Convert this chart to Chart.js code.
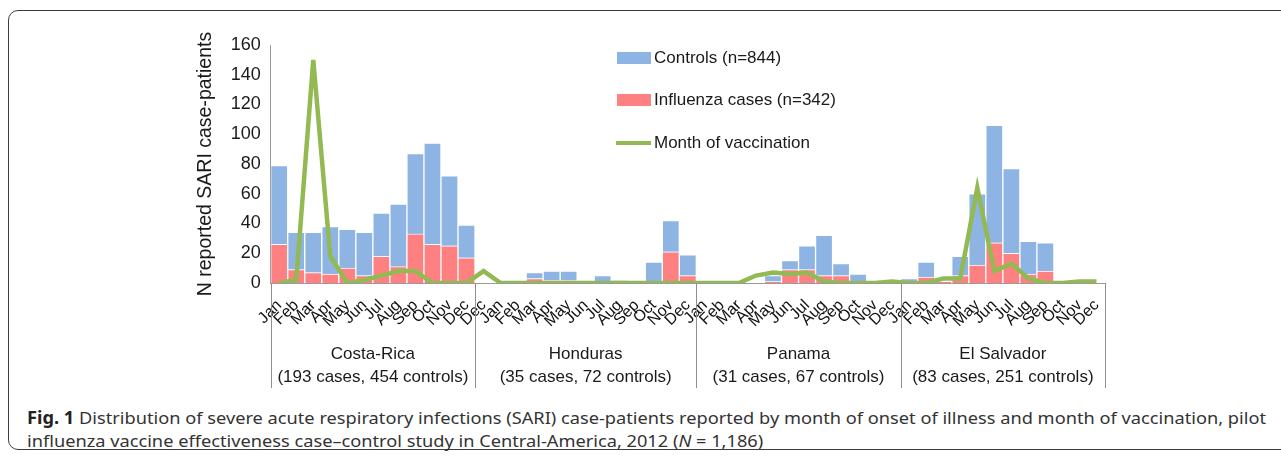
<!DOCTYPE html>
<html>
<head>
<meta charset="utf-8">
<script src="https://cdn.jsdelivr.net/npm/chart.js@4.4.1/dist/chart.umd.min.js"></script>
<style>
  html, body { margin: 0; padding: 0; background: #fff; }
  body { width: 1281px; height: 457px; position: relative; overflow: hidden; }
  #frame { position: absolute; left: 8px; top: 10px; width: 1320px; height: 440px;
           border: 1.5px solid #3c3c3c; border-radius: 10px; box-sizing: border-box; }
  #chart { position: absolute; left: 0; top: 0; }
  #cap { position: absolute; left: 27px; top: 406px; font-family: "Noto Sans", "Open Sans", sans-serif;
         font-size: 17px; line-height: 23px; color: #333; white-space: nowrap; transform-origin: 0 0; }
  #cap b { color: #222; }
</style>
</head>
<body>
<div id="frame"></div>
<canvas id="chart" width="1281" height="395"></canvas>
<div id="cap"><span id="cap1"><b>Fig. 1</b> Distribution of severe acute respiratory infections (SARI) case-patients reported by month of onset of illness and month of vaccination, pilot</span><br>influenza vaccine effectiveness case–control study in Central-America, 2012 (<i>N</i> = 1,186)</div>
<script>
// 1, 데이터

    // 나라별 묶음
    const countries = ['Costa-Rica', 'Honduras', 'Panama', 'El Salvador'];
    const countryNotes = ['(193 cases, 454 controls)', '(35 cases, 72 controls)', '(31 cases, 67 controls)', '(83 cases, 251 controls)'];
    const months = ['Jan', 'Feb', 'Mar', 'Apr', 'May', 'Jun', 'Jul', 'Aug', 'Sep', 'Oct', 'Nov', 'Dec'];
    // 온두라스는 전년도 12월부터 시작
    const countryMonths = [months, ['Dec'].concat(months), months, months];

    // 독감 환자 (빨강)
    const cases = [
        26, 9, 7, 6, 10, 5, 18, 11, 33, 26, 25, 17,      // Costa-Rica
        0, 0, 0, 3, 2, 2, 0, 0, 0, 0, 0, 21, 5,          // Honduras
        0, 0, 0, 0, 1, 9, 9, 5, 5, 0, 0, 0,              // Panama
        0, 4, 1, 5, 12, 27, 20, 6, 8, 0, 0, 0            // El Salvador
    ];
    // 대조군 (파랑, 환자 위에 쌓임)
    const controls = [
        53, 25, 27, 32, 26, 29, 29, 42, 54, 68, 47, 22,
        0, 0, 0, 4, 6, 6, 0, 5, 2, 0, 14, 21, 14,
        0, 0, 0, 0, 4, 6, 16, 27, 8, 6, 0, 0,
        3, 10, 0, 13, 48, 79, 57, 22, 19, 0, 0, 0
    ];
    // 접종 월 (초록 선)
    const vaccinated = [
        0, 2, 150, 18, 0, 2, 5, 8, 8, 0, 0, 0,
        8, 0, 0, 0, 0, 0, 0, 0, 0, 0, 0, 0, 0,
        0, 0, 0, 5, 7, 6, 7, 1, 0, 0, 0, 1,
        0, 0, 3, 3, 64, 8, 13, 3, 0, 0, 1, 1
    ];
    const yTicks = [0, 20, 40, 60, 80, 100, 120, 140, 160];

    const labels = [].concat(...countryMonths);

    const blue = '#8eb4e3';
    const red = '#ff8080';
    const green = '#93b953';
    const fontName = '"Liberation Sans", Arial, sans-serif';

// 2, 플러그인 (나라 박스 + 범례)

    const groupBoxes = {
        id: 'groupBoxes',
        afterDraw(chart) {
            const ctx = chart.ctx;
            const x = chart.scales.x;
            const area = chart.chartArea;
            const step = x.getPixelForValue(1) - x.getPixelForValue(0);
            const bottom = 388;
            let start = 0;
            let edges = [x.getPixelForValue(0) - step / 2];
            countryMonths.forEach(m => {
                start += m.length;
                edges.push(x.getPixelForValue(start - 1) + step / 2);
            });
            ctx.save();
            ctx.strokeStyle = '#8f8f8f';
            ctx.lineWidth = 1;
            edges.forEach(e => {
                const px = Math.round(e) + 0.5;
                ctx.beginPath();
                ctx.moveTo(px, area.bottom);
                ctx.lineTo(px, bottom);
                ctx.stroke();
            });
            ctx.fillStyle = '#1a1a1a';
            ctx.font = '17px ' + fontName;
            ctx.textAlign = 'center';
            ctx.textBaseline = 'middle';
            countries.forEach((c, i) => {
                const mid = (edges[i] + edges[i + 1]) / 2;
                ctx.fillText(c, mid, 354);
                ctx.fillText(countryNotes[i], mid, 377);
            });

            // 범례
            const items = [
                {text: 'Controls (n=844)', color: blue, y: 58, box: true},
                {text: 'Influenza cases (n=342)', color: red, y: 100, box: true},
                {text: 'Month of vaccination', color: green, y: 143, box: false}
            ];
            ctx.textAlign = 'left';
            items.forEach(it => {
                if (it.box) {
                    ctx.fillStyle = it.color;
                    ctx.fillRect(617, it.y - 6, 34, 12);
                } else {
                    ctx.strokeStyle = it.color;
                    ctx.lineWidth = 4;
                    ctx.beginPath();
                    ctx.moveTo(616, it.y);
                    ctx.lineTo(651, it.y);
                    ctx.stroke();
                }
                ctx.fillStyle = '#1a1a1a';
                ctx.fillText(it.text, 654, it.y);
            });
            ctx.restore();
        }
    };

// 3, 차트

    Chart.defaults.font.family = fontName;
    Chart.defaults.color = '#1a1a1a';

    const ctx = document.getElementById('chart').getContext('2d');
    const chart = new Chart(ctx, {
        type: 'bar',
        data: {
            labels: labels,
            datasets: [
                {label: 'Month of vaccination', type: 'line', data: vaccinated, stack: 'vac', order: 0,
                 borderColor: green, borderWidth: 4.5, pointRadius: 0, tension: 0, fill: false},
                {label: 'Influenza cases (n=342)', data: cases, stack: 'sari', order: 1,
                 backgroundColor: red, borderColor: 'rgba(255,255,255,0.55)', borderWidth: 1,
                 categoryPercentage: 1, barPercentage: 1},
                {label: 'Controls (n=844)', data: controls, stack: 'sari', order: 1,
                 backgroundColor: blue, borderColor: 'rgba(255,255,255,0.55)', borderWidth: 1,
                 categoryPercentage: 1, barPercentage: 1}
            ]
        },
        options: {
            responsive: false,
            animation: false,
            layout: {padding: {left: 190, right: 176, top: 45, bottom: 0}},
            plugins: {legend: {display: false}, tooltip: {enabled: false}},
            scales: {
                x: {
                    stacked: true,
                    offset: true,
                    grid: {display: false, drawTicks: false},
                    border: {display: true, color: '#9a9a9a'},
                    ticks: {autoSkip: false, maxRotation: 45, minRotation: 45, padding: 13,
                            font: {size: 16}, color: '#111'},
                    afterFit(s) { s.height = 112; }
                },
                y: {
                    stacked: true,
                    min: 0,
                    max: 160,
                    afterBuildTicks(s) { s.ticks = yTicks.map(v => ({value: v})); },
                    grid: {display: false, drawTicks: false},
                    border: {display: true, color: '#9a9a9a'},
                    ticks: {padding: 10, font: {size: 18}, color: '#1a1a1a'},
                    title: {display: true, text: 'N reported SARI case-patients', font: {size: 19.5}, color: '#1a1a1a', padding: 4},
                    afterFit(s) { s.width = 80.7; }
                }
            }
        },
        plugins: [groupBoxes]
    });

    // 캡션 폭 맞추기 (좁은 글꼴 흉내)
    const cap = document.getElementById('cap');
    const w1 = document.getElementById('cap1').getBoundingClientRect().width;
    cap.style.transform = 'scaleX(' + (1239 / w1) + ')';
</script>
</body>
</html>
